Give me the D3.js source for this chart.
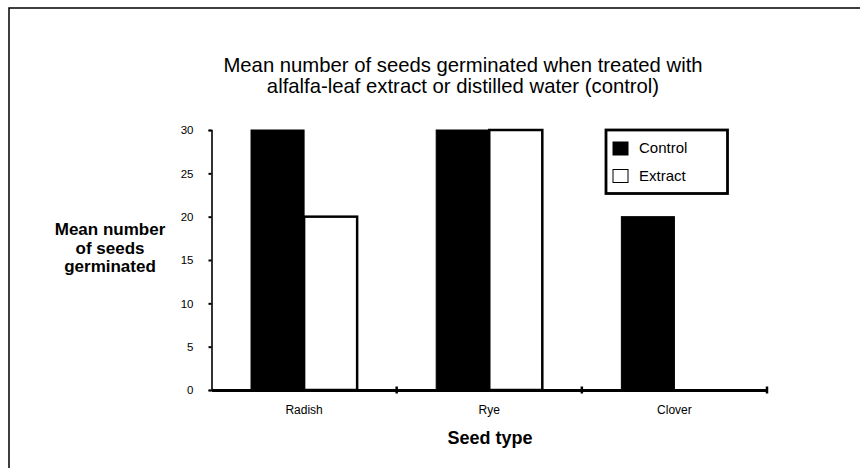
<!DOCTYPE html>
<html>
<head>
<meta charset="utf-8">
<script src="https://cdn.jsdelivr.net/npm/d3@7"></script>
<style>
  body { margin: 0; background: #fff; }
  text { font-family: "Liberation Sans", Arial, sans-serif; fill: #000; }
</style>
</head>
<body>
<div id="graphic"></div>
<script>
// data
var categories = ["Radish", "Rye", "Clover"];
var series = ["Control", "Extract"];
var controlValues = [30, 30, 20];
var extractValues = [20, 30, 0];
var yTicks = [0, 5, 10, 15, 20, 25, 30];

var rows = categories.map(function (c, i) {
  return { cat: c, values: [
    { key: "Control", value: controlValues[i] },
    { key: "Extract", value: extractValues[i] }
  ]};
});

var svg = d3.select("#graphic").append("svg")
        .attr("width", 860)
        .attr("height", 468);

// outer frame (runs off the right and bottom edge)
svg.append("rect")
        .attr("x", 9)
        .attr("y", 8)
        .attr("width", 900)
        .attr("height", 500)
        .style("fill", "none")
        .style("stroke", "#000")
        .style("stroke-width", 1.5);

var x0 = d3.scaleBand().domain(categories).range([211.5, 767]).padding(0);
var x1 = d3.scaleBand().domain(series).range([0, x0.bandwidth()])
        .paddingInner(0).paddingOuter(0.745);
var y = d3.scaleLinear().domain([0, 30]).range([390, 130]);

// title, two lines
["Mean number of seeds germinated when treated with",
 "alfalfa-leaf extract or distilled water (control)"].forEach(function (t, i) {
  svg.append("text")
        .attr("x", 463)
        .attr("y", 72 + i * 21)
        .attr("text-anchor", "middle")
        .style("font-size", "20.3px")
        .text(t);
});

// bars
var groups = svg.append("g").selectAll("g")
        .data(rows)
        .join("g")
        .attr("transform", function (d) { return "translate(" + x0(d.cat) + ",0)"; });

groups.selectAll("rect")
        .data(function (d) { return d.values.filter(function (v) { return v.value > 0; }); })
        .join("rect")
        .attr("x", function (d) { return x1(d.key); })
        .attr("y", function (d) { return y(d.value); })
        .attr("width", x1.bandwidth())
        .attr("height", function (d) { return y(0) - y(d.value); })
        .style("fill", function (d) { return d.key === "Control" ? "#000" : "#fff"; })
        .style("stroke", "#000")
        .style("stroke-width", function (d) { return d.key === "Control" ? 1 : 2.5; });

// y axis
var yAxis = svg.append("g")
        .attr("transform", "translate(211.5,0)")
        .call(d3.axisLeft(y).tickValues(yTicks).tickSize(3).tickPadding(15));
yAxis.select(".domain").style("stroke-width", 1.6);
yAxis.selectAll(".tick line").style("stroke-width", 2);
yAxis.selectAll(".tick text")
        .style("font-size", "11.5px")
        .style("font-family", "'Liberation Sans', Arial, sans-serif");

// x axis
var xAxis = svg.append("g")
        .attr("transform", "translate(0,390)")
        .call(d3.axisBottom(x0).tickSize(0).tickPadding(15));
xAxis.select(".domain").style("stroke-width", 2.8);
xAxis.selectAll(".tick text")
        .style("font-size", "12px")
        .style("font-family", "'Liberation Sans', Arial, sans-serif");

// boundary ticks on the x axis
svg.append("g").selectAll("line")
        .data(categories)
        .join("line")
        .attr("x1", function (d) { return x0(d) + x0.bandwidth(); })
        .attr("x2", function (d) { return x0(d) + x0.bandwidth(); })
        .attr("y1", 386.5)
        .attr("y2", 393.5)
        .style("stroke", "#000")
        .style("stroke-width", 2.5);

// axis titles
svg.append("text")
        .attr("x", 490)
        .attr("y", 444)
        .attr("text-anchor", "middle")
        .style("font-size", "18px")
        .style("font-weight", "bold")
        .text("Seed type");

["Mean number", "of seeds", "germinated"].forEach(function (t, i) {
  svg.append("text")
        .attr("x", 110)
        .attr("y", 235 + i * 18.5)
        .attr("text-anchor", "middle")
        .style("font-size", "17px")
        .style("font-weight", "bold")
        .text(t);
});

// legend
var legend = svg.append("g");
legend.append("rect")
        .attr("x", 606)
        .attr("y", 130)
        .attr("width", 121.5)
        .attr("height", 63.5)
        .style("fill", "#fff")
        .style("stroke", "#000")
        .style("stroke-width", 2.8);

var items = legend.selectAll("g.item")
        .data(series)
        .join("g")
        .attr("class", "item")
        .attr("transform", function (d, i) { return "translate(613," + (142 + i * 27.5) + ")"; });
items.append("rect")
        .attr("width", 15)
        .attr("height", 13)
        .style("fill", function (d) { return d === "Control" ? "#000" : "#fff"; })
        .style("stroke", "#000")
        .style("stroke-width", 1);
items.append("text")
        .attr("x", 26)
        .attr("y", 11)
        .style("font-size", "15px")
        .text(function (d) { return d; });
</script>
</body>
</html>
